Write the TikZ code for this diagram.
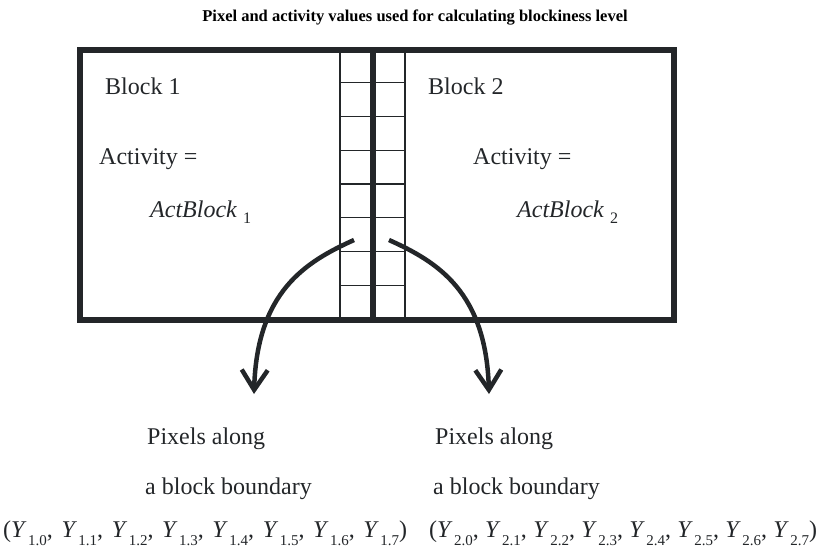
\documentclass[tikz,border=0pt]{standalone}
\usepackage{fontspec}
\setmainfont{Liberation Serif}
\usetikzlibrary{arrows.meta}
\definecolor{ink}{RGB}{35,38,41}
\newcommand\Ysub[1]{\textit{Y}\kern1.5pt\raisebox{-8pt}{\fontsize{15}{15}\selectfont #1}}
\newcommand\ActSub[1]{\textit{ActBlock}\kern6pt\raisebox{-6pt}{\fontsize{16}{16}\selectfont #1}}
\tikzset{
  txt/.style={anchor=base west, inner sep=0pt, text=ink, font=\fontsize{24}{28}\selectfont},
  ttl/.style={anchor=base, inner sep=0pt, text=black, font=\fontsize{16.5}{20}\selectfont\bfseries},
  frame/.style={draw=ink, line width=6pt},
  midline/.style={draw=ink, line width=5.5pt},
  gridline/.style={draw=ink, line width=1.2pt},
  curvearrow/.style={draw=ink, line width=4.5pt, -{Straight Barb[length=20pt,width=26pt]}}
}
\begin{document}
\begin{tikzpicture}[x=1pt,y=-1pt]
\useasboundingbox (0,0) rectangle (820,550);
\node[ttl] (title) at (415,21) {Pixel and activity values used for calculating blockiness level};
% grid
\foreach \y in {82.75,116.5,150.25,184,217.75,251.5,285.25}
  \draw[gridline] (340,\y) -- (405,\y);
\draw[gridline] (340,49.5) -- (340,320);
\draw[gridline] (405,49.5) -- (405,320);
% frame
\draw[frame] (80,49.5) rectangle (674,320);
\draw[midline] (373,49.5) -- (373,320);
% texts
\node[txt] (b1) at (105,94) {Block 1};
\node[txt] (a1) at (99,164) {Activity =};
\node[txt] (ab1) at (150,217) {\ActSub{1}};
\node[txt] (b2) at (428,94) {Block 2};
\node[txt] (a2) at (473,164) {Activity =};
\node[txt] (ab2) at (517,217) {\ActSub{2}};
\node[txt] (p1) at (147,444) {Pixels along};
\node[txt] (q1) at (145,494) {a block boundary};
\node[txt] (y1) at (3,537) {\makebox[404pt][s]{(\Ysub{1.0}, \Ysub{1.1}, \Ysub{1.2}, \Ysub{1.3}, \Ysub{1.4}, \Ysub{1.5}, \Ysub{1.6}, \Ysub{1.7})}};
\node[txt] (p2) at (435,444) {Pixels along};
\node[txt] (q2) at (433,494) {a block boundary};
\node[txt] (y2) at (429,537) {\makebox[388pt][s]{(\Ysub{2.0}, \Ysub{2.1}, \Ysub{2.2}, \Ysub{2.3}, \Ysub{2.4}, \Ysub{2.5}, \Ysub{2.6}, \Ysub{2.7})}};
% arrows
\coordinate (s1) at (354,240);
\coordinate (e1) at (254,394);
\coordinate (s2) at (389,240);
\coordinate (e2) at (489,394);
\draw[curvearrow] (s1) .. controls (305,262) and (257,292) .. (e1);
\draw[curvearrow] (s2) .. controls (438,262) and (486,292) .. (e2);
\end{tikzpicture}
\end{document}
